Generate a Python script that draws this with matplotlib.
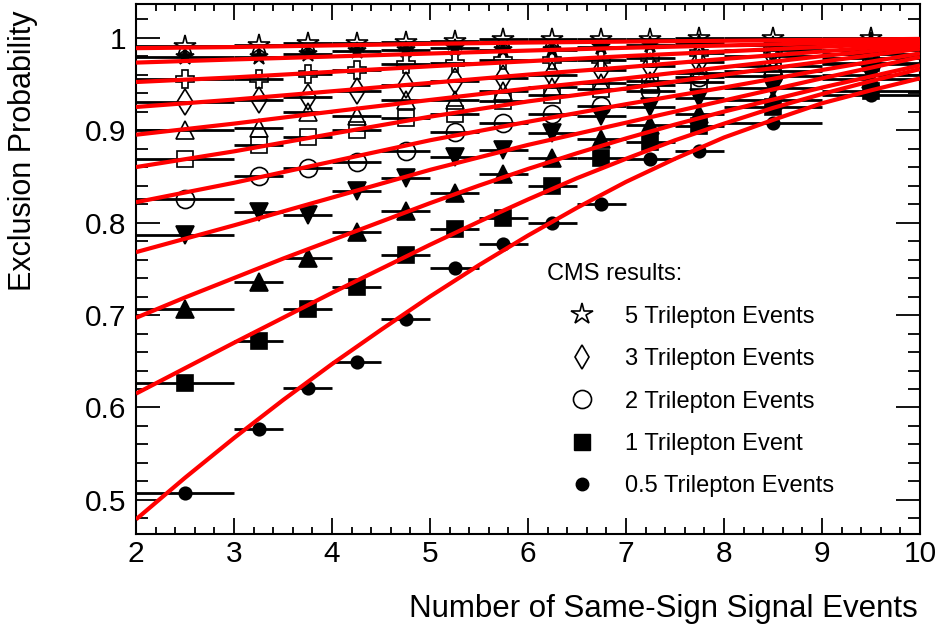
import matplotlib
matplotlib.use("Agg")
import matplotlib.pyplot as plt
from matplotlib.lines import Line2D
from matplotlib.ticker import MultipleLocator

plt.rcParams['font.family'] = ['Liberation Sans', 'DejaVu Sans']

# bin centres and half widths
x_pts = [2.5, 3.25, 3.75, 4.25, 4.75, 5.25, 5.75, 6.25, 6.75, 7.25, 7.75, 8.5, 9.5]
x_err = [0.5, 0.25, 0.25, 0.25, 0.25, 0.25, 0.25, 0.25, 0.25, 0.25, 0.25, 0.5, 0.5]

# measured points, top series to bottom series
y_star = [0.9906, 0.9924, 0.994, 0.994, 0.9955, 0.9966, 0.998, 0.998, 0.998, 0.9986, 0.9995, 1.0, 1.0]
y_fstar = [0.979, 0.979, 0.982, 0.985, 0.987, 0.989, 0.987, 0.987, 0.990, 0.992, 0.994, 0.992, 0.996]
y_cross = [0.955, 0.955, 0.961, 0.965, 0.971, 0.9726, 0.976, 0.976, 0.976, 0.978, 0.983, 0.987, 0.987]
y_diam = [0.930, 0.933, 0.936, 0.942, 0.949, 0.953, 0.956, 0.960, 0.965, 0.969, 0.974, 0.980, 0.982]
y_otri = [0.900, 0.902, 0.920, 0.915, 0.933, 0.933, 0.942, 0.947, 0.951, 0.953, 0.962, 0.969, 0.978]
y_osq = [0.869, 0.884, 0.8925, 0.900, 0.913, 0.917, 0.931, 0.938, 0.944, 0.949, 0.952, 0.9635, 0.973]
y_ocirc = [0.826, 0.850, 0.859, 0.866, 0.877, 0.8975, 0.908, 0.917, 0.926, 0.942, 0.957, 0.958, 0.971]
y_tdown = [0.787, 0.811, 0.808, 0.834, 0.848, 0.871, 0.879, 0.897, 0.915, 0.925, 0.935, 0.946, 0.960]
y_tup = [0.706, 0.736, 0.762, 0.790, 0.812, 0.832, 0.852, 0.870, 0.890, 0.906, 0.917, 0.933, 0.955]
y_fsq = [0.627, 0.672, 0.706, 0.730, 0.765, 0.793, 0.805, 0.839, 0.870, 0.887, 0.904, 0.925, 0.942]
y_fcirc = [0.5076, 0.577, 0.621, 0.649, 0.696, 0.751, 0.777, 0.799, 0.820, 0.869, 0.877, 0.908, 0.938]

# fitted curves
x_fit = [2, 3, 4, 5, 6, 7, 8, 9, 10]
x_fit_fine = [2, 2.5, 3, 3.5, 4, 4.5, 5, 5.5, 6, 6.5, 7, 7.5, 8, 8.5, 9, 9.5, 10]
f_star = [0.9886, 0.9898, 0.9916, 0.9933, 0.9947, 0.9957, 0.9966, 0.9976, 0.9986]
f_fstar = [0.973, 0.9764, 0.9796, 0.9828, 0.986, 0.989, 0.9915, 0.994, 0.997]
f_cross = [0.952, 0.957, 0.963, 0.969, 0.9745, 0.980, 0.985, 0.990, 0.995]
f_diam = [0.925, 0.933, 0.942, 0.951, 0.960, 0.968, 0.977, 0.985, 0.9935]
f_otri = [0.895, 0.907, 0.920, 0.9326, 0.945, 0.956, 0.968, 0.980, 0.991]
f_osq = [0.860, 0.877, 0.896, 0.9145, 0.931, 0.945, 0.960, 0.974, 0.988]
f_ocirc = [0.822, 0.843, 0.866, 0.889, 0.909, 0.928, 0.946, 0.965, 0.983]
f_tdown = [0.768, 0.797, 0.827, 0.857, 0.884, 0.908, 0.932, 0.956, 0.979]
f_tup = [0.697, 0.719, 0.740, 0.761, 0.781, 0.801, 0.821, 0.840, 0.858, 0.875, 0.891, 0.906,
         0.920, 0.933, 0.946, 0.958, 0.970]
f_fsq = [0.615, 0.6425, 0.670, 0.697, 0.724, 0.750, 0.776, 0.801, 0.825, 0.848, 0.869, 0.889,
         0.907, 0.924, 0.939, 0.953, 0.966]
f_fcirc = [0.479, 0.524, 0.567, 0.608, 0.647, 0.684, 0.720, 0.754, 0.786, 0.816, 0.844, 0.869,
           0.892, 0.911, 0.929, 0.943, 0.956]

# (points, curve x, curve y, marker, filled, size)
series = [
    (y_star, x_fit, f_star, '*', False, 16),
    (y_fstar, x_fit, f_fstar, '*', True, 13),
    (y_cross, x_fit, f_cross, 'P', False, 13),
    (y_diam, x_fit, f_diam, 'd', False, 13),
    (y_otri, x_fit, f_otri, '^', False, 13),
    (y_osq, x_fit, f_osq, 's', False, 12),
    (y_ocirc, x_fit, f_ocirc, 'o', False, 13),
    (y_tdown, x_fit, f_tdown, 'v', True, 13),
    (y_tup, x_fit_fine, f_tup, '^', True, 13),
    (y_fsq, x_fit_fine, f_fsq, 's', True, 12),
    (y_fcirc, x_fit_fine, f_fcirc, 'o', True, 9),
]

fig = plt.figure(figsize=(9.4, 6.3), dpi=100)
ax = fig.add_axes([0.1447, 0.1524, 0.834, 0.8413])

for ys, fx, fy, m, filled, ms in series:
    ax.errorbar(x_pts, ys, xerr=x_err, fmt='none', ecolor='black', elinewidth=2, capsize=0, zorder=2)
    ax.plot(x_pts, ys, linestyle='none', marker=m, markersize=ms, color='black',
            markerfacecolor='black' if filled else 'none', markeredgewidth=1.2, zorder=3)
    ax.plot(fx, fy, color='red', linewidth=3, zorder=4, solid_capstyle='butt', solid_joinstyle='round')

ax.set_xlim(2, 10)
ax.set_ylim(0.4632, 1.0364)

ax.xaxis.set_major_locator(MultipleLocator(1))
ax.xaxis.set_minor_locator(MultipleLocator(0.2))
ax.yaxis.set_minor_locator(MultipleLocator(0.02))
ax.set_yticks([0.5, 0.6, 0.7, 0.8, 0.9, 1.0])
ax.set_yticklabels(['0.5', '0.6', '0.7', '0.8', '0.9', '1'])

ax.tick_params(axis='both', which='both', direction='in', top=True, right=True, width=1.3, labelsize=21.5)
ax.tick_params(axis='x', which='major', length=11.3, pad=4)
ax.tick_params(axis='x', which='minor', length=5)
ax.tick_params(axis='y', which='major', length=17.3, pad=7)
ax.tick_params(axis='y', which='minor', length=8.6)
for sp in ax.spines.values():
    sp.set_linewidth(1.5)

fig.text(0.9766, 0.034, 'Number of Same-Sign Signal Events', ha='right', va='center', fontsize=22.5)
fig.text(0.025, 0.984, 'Exclusion Probability', ha='center', va='top', rotation=90, fontsize=22)

handles = [
    Line2D([0], [0], linestyle='none', marker='*', markersize=16, color='black', markerfacecolor='none', markeredgewidth=1.2),
    Line2D([0], [0], linestyle='none', marker='d', markersize=12, color='black', markerfacecolor='none', markeredgewidth=1.2),
    Line2D([0], [0], linestyle='none', marker='o', markersize=13, color='black', markerfacecolor='none', markeredgewidth=1.2),
    Line2D([0], [0], linestyle='none', marker='s', markersize=12, color='black'),
    Line2D([0], [0], linestyle='none', marker='o', markersize=9, color='black'),
]
labels = ['5 Trilepton Events', '3 Trilepton Events', '2 Trilepton Events',
          '1 Trilepton Event', '0.5 Trilepton Events']
leg = ax.legend(handles, labels, title='CMS results:', loc='upper left',
                bbox_to_anchor=(0.509, 0.533), frameon=False, fontsize=17, title_fontsize=17,
                handlelength=3.0, handletextpad=0.3, labelspacing=0.865, borderpad=0,
                alignment='left')

fig.savefig('out.png', dpi=100)
